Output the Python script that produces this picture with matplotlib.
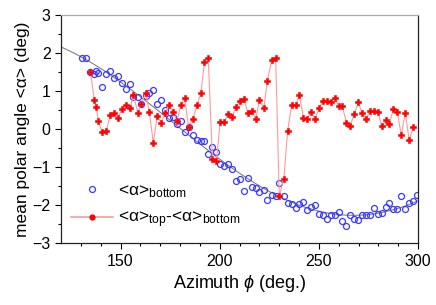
# %% Imports
from matplotlib import pyplot as plt
from matplotlib.lines import Line2D
import numpy as np

plt.rcParams["font.family"] = ["Liberation Sans", "DejaVu Sans"]
plt.rcParams["mathtext.fontset"] = "custom"
plt.rcParams["mathtext.rm"] = "Liberation Sans"
plt.rcParams["mathtext.it"] = "Liberation Sans:italic"

# %% Data
phi = [130.8, 132.8, 134.8, 136.8, 137.8, 138.8, 140.7, 142.8, 144.7, 146.8,
       148.7, 150.7, 152.7, 154.7, 156.5, 158.7, 160.5, 162.7, 164.5, 166.5,
       168.5, 170.5, 172.5, 174.5, 176.5, 178.5, 180.3, 182.3, 184.3, 186.5,
       188.5, 190.5, 192.3, 194.2, 196.3, 198.3, 200.2, 202.2, 204.3, 206.2,
       208.2, 210.2, 212.2, 214.2, 216.2, 218.2, 220.0, 222.2, 224.0, 226.2,
       228.2, 230.0, 232.3, 234.2, 236.2, 238.2, 240.2, 242.2, 244.0, 246.0,
       248.0, 250.0, 252.0, 254.0, 256.0, 258.0, 260.0, 261.8, 263.8, 265.8,
       267.8, 269.8, 271.8, 273.8, 275.7, 277.7, 279.7, 281.7, 283.7, 285.5,
       287.5, 289.5, 291.5, 293.5, 295.5, 297.5, 299.3]

alpha_bottom = [1.86, 1.86, 1.51, 1.45, 1.53, 1.48, 1.10, 1.46, 1.52, 1.33,
                1.39, 1.21, 1.05, 1.18, 0.85, 0.84, 0.67, 0.87, 0.95, 1.03,
                0.65, 0.75, 0.50, 0.30, 0.32, 0.13, 0.20, -0.09, 0.06, -0.16,
                -0.29, -0.32, -0.32, -0.67, -0.47, -0.60, -0.91, -0.96, -0.93, -1.04,
                -1.38, -1.31, -1.63, -1.30, -1.52, -1.54, -1.65, -1.61, -1.86, -1.74,
                -1.75, -1.41, -1.75, -1.94, -1.98, -2.08, -1.96, -1.91, -2.12, -2.05,
                -2.01, -2.23, -2.27, -2.37, -2.25, -2.25, -2.18, -2.41, -2.56, -2.26,
                -2.36, -2.40, -2.26, -2.26, -2.27, -2.09, -2.24, -2.22, -2.06, -1.95,
                -2.11, -2.11, -1.76, -2.10, -1.95, -1.90, -1.73]

# <alpha>_top - <alpha>_bottom, starts at phi[2]
alpha_diff = [1.51, 0.76, 0.57, 0.22, -0.09, -0.05, 0.36, 0.43, 0.28, 0.53,
              0.62, 0.55, 0.89, 0.43, 0.67, 0.94, 0.44, -0.36, 0.34, 0.17,
              0.42, 0.62, 0.44, 0.21, 0.63, 0.81, 0.06, 0.27, 0.62, 0.95,
              1.76, 1.88, -0.79, -0.85, 0.18, 0.18, 0.40, 0.32, 0.58, 0.73,
              0.80, 0.42, 0.47, 0.26, 0.77, 0.54, 1.26, 1.82, 1.87, -1.76,
              -1.32, -0.06, 0.62, 0.62, 0.89, 0.29, 0.27, 0.44, 0.27, 0.54,
              0.73, 0.73, 0.71, 0.82, 0.60, 0.61, 0.17, 0.09, 0.40, 0.70,
              0.41, 0.26, 0.48, 0.47, 0.45, 0.07, 0.23, 0.12, 0.53, 0.45,
              -0.17, 0.43, -0.29, 0.05]

xticks = [150, 200, 250, 300]
yticks = [-3, -2, -1, 0, 1, 2, 3]

# %% cosine fit of <alpha>_bottom (a + b cos + c sin)
phi_a = np.array(phi)
rad = np.deg2rad(phi_a)
A = np.column_stack([np.ones_like(rad), np.cos(rad), np.sin(rad)])
coef, *_ = np.linalg.lstsq(A, np.array(alpha_bottom), rcond=None)
phi_fit = np.linspace(120, 300, 200)
rf = np.deg2rad(phi_fit)
fit = coef[0] + coef[1] * np.cos(rf) + coef[2] * np.sin(rf)

# %% Plot
fig = plt.figure(figsize=(4.36, 3.05), dpi=100)
ax = fig.add_axes([0.140, 0.203, 0.819, 0.748])

ax.plot(phi_fit, fit, color="gray", linewidth=0.8, zorder=1)
ax.plot(phi, alpha_bottom, linestyle="None", marker="o", markersize=4.3,
        markerfacecolor="none", markeredgecolor="#3a3aff", markeredgewidth=0.9,
        zorder=2)
red_x = phi[2:2 + len(alpha_diff)]
ax.plot(red_x, alpha_diff, color="#ff9a9a", linewidth=0.8, zorder=3)
ax.plot(red_x, alpha_diff, linestyle="None", marker="P", markersize=4.2,
        color="red", markeredgewidth=0.4, markeredgecolor="red", zorder=4)

ax.set_xlim(120, 300)
ax.set_ylim(-3, 3)
ax.set_xticks(xticks)
ax.set_yticks(yticks)
ax.set_xticks(np.arange(130, 300, 10), minor=True)
ax.set_yticks(np.arange(-2.5, 3, 1), minor=True)
ax.tick_params(direction="out", labelsize=11.5, length=4, width=0.8)
ax.tick_params(which="minor", direction="out", length=2.5, width=0.8)
for s in ax.spines.values():
    s.set_linewidth(0.9)
    s.set_color("#222222")
ax.spines["top"].set_color("#aaaaaa")

ax.set_xlabel(r"Azimuth $\phi$ (deg.)", fontsize=13, labelpad=3)
ax.set_ylabel("mean polar angle <α> (deg)", fontsize=12.5, labelpad=2)

h1 = Line2D([], [], linestyle="None", marker="o", markersize=4.3,
            markerfacecolor="none", markeredgecolor="#3a3aff", markeredgewidth=0.9)
h2 = Line2D([], [], color="#ff9a9a", linewidth=1.2, marker="o", markersize=3.5,
            markerfacecolor="red", markeredgecolor="red")
ax.legend([h1, h2],
          ["<α>$_{\\mathrm{bottom}}$", "<α>$_{\\mathrm{top}}$-<α>$_{\\mathrm{bottom}}$"],
          loc="lower left", bbox_to_anchor=(0.0, 0.01), frameon=False,
          fontsize=12.5, handlelength=2.4, handletextpad=0.3, labelspacing=0.55,
          borderaxespad=0.2)

fig.savefig("out.png", dpi=100)
